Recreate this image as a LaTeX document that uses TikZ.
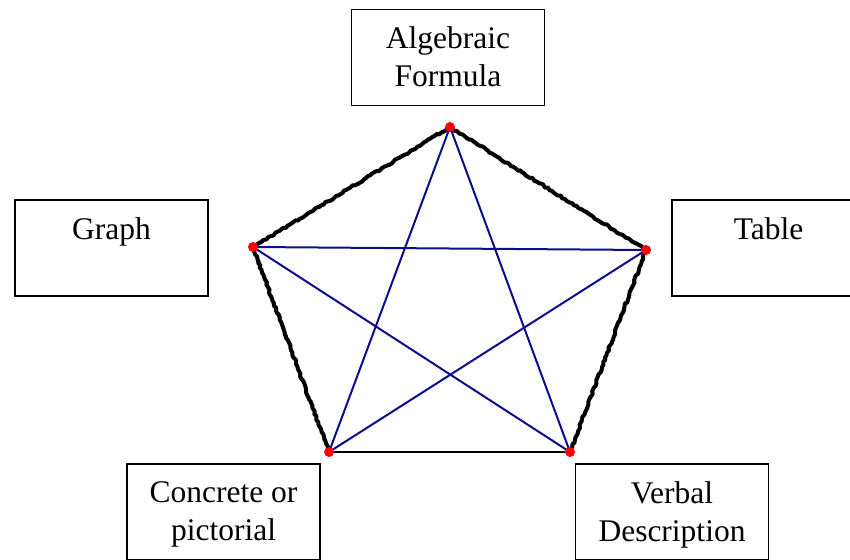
\documentclass[tikz,border=0pt]{standalone}
\usepackage{fontspec}
\setmainfont{Liberation Serif}
\usepackage{xcolor}
\usepackage{tikz}
\usetikzlibrary{calc, decorations.pathmorphing}

\definecolor{starblue}{RGB}{12,12,140}

\begin{document}
\begin{tikzpicture}[x=1pt, y=-1pt,
    repbox/.style={draw, line width=1.8pt, minimum width=193pt, minimum height=96pt, inner sep=0pt},
    lbl/.style={anchor=north, yshift=-18pt, align=center, inner sep=0pt, font=\fontsize{31.5}{38}\selectfont},
    corner/.style={circle, fill=red, inner sep=0pt, minimum size=10pt},
    rough/.style={line width=4pt, line join=round, decorate, decoration={random steps, segment length=2.5pt, amplitude=0.9pt}},
    star/.style={starblue, line width=2pt}]
    \useasboundingbox (0,0) rectangle (850,559);

    % the five representations
    \node[repbox, label={[lbl]north:Algebraic\\Formula}] (alg) at (448,57.5) {};
    \node[repbox, label={[lbl]north:Graph}] (graph) at (111.5,248) {};
    \node[repbox, label={[lbl]north:Table}] (table) at (768.5,248) {};
    \node[repbox, label={[lbl]north:Concrete or\\pictorial}] (concrete) at (223.5,512) {};
    \node[repbox, label={[lbl]north:Verbal\\Description}] (verbal) at (672,512) {};

    % pentagon corners
    \coordinate (pa) at (450,127);
    \coordinate (pg) at (253,247);
    \coordinate (pt) at (646,250);
    \coordinate (pc) at (329,452);
    \coordinate (pv) at (570,452);

    \draw[rough] (pg) -- (pa);
    \draw[rough] (pa) -- (pt);
    \draw[rough] (pg) -- (pc);
    \draw[rough] (pt) -- (pv);
    \draw[line width=1.8pt] (pc) -- (pv);

    \draw[star] (pa) -- (pc);
    \draw[star] (pa) -- (pv);
    \draw[star] (pg) -- (pt);
    \draw[star] (pg) -- (pv);
    \draw[star] (pt) -- (pc);

    \foreach \p in {pa, pg, pt, pc, pv}
        \node[corner] at (\p) {};
\end{tikzpicture}
\end{document}
